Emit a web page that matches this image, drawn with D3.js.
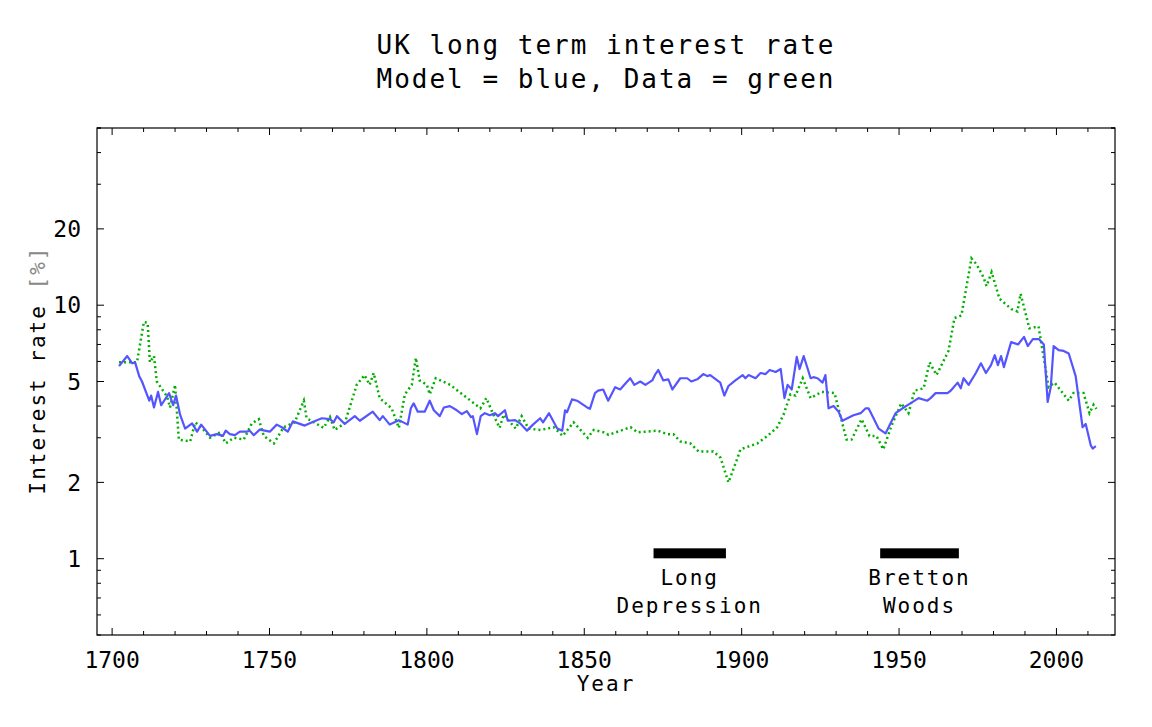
<!DOCTYPE html>
<html>
<head>
<meta charset="utf-8">
<script src="https://cdn.jsdelivr.net/npm/d3@7/dist/d3.min.js"></script>
<style>
  body { margin: 0; background: #fff; }
  text { font-family: "DejaVu Sans Mono", monospace; fill: #000; }
</style>
</head>
<body>
<svg id="chart" width="1152" height="727"></svg>
<script>
// model (blue) : [year, rate %]
var modelData = [[1702.2,5.75],[1704.8,6.3],[1706.4,5.9],[1707.3,5.95],[1708.6,5.25],[1709.5,5.0],[1711.8,4.2],[1712.4,4.4],[1713.3,3.95],[1714.6,4.55],[1715.6,4.03],[1718.1,4.5],[1719.4,4.03],[1720.3,4.4],[1721.6,3.7],[1723.2,3.26],[1725.4,3.42],[1727,3.17],[1728.3,3.38],[1731.1,3.05],[1733.3,3.1],[1735.2,3.05],[1736.1,3.2],[1737.4,3.1],[1739,3.07],[1740.6,3.17],[1742.8,3.17],[1743.7,3.2],[1745,3.07],[1746.9,3.23],[1750.1,3.17],[1752.3,3.38],[1753.9,3.3],[1755.8,3.17],[1757.4,3.48],[1761.2,3.35],[1764.1,3.48],[1766.6,3.58],[1769.2,3.55],[1770.4,3.45],[1771.4,3.65],[1773.9,3.4],[1777.1,3.65],[1778.7,3.5],[1782.8,3.8],[1785,3.52],[1786,3.65],[1788.2,3.38],[1791.1,3.52],[1793.9,3.38],[1794.9,3.92],[1795.8,4.1],[1797.1,3.8],[1799.3,3.8],[1800.9,4.2],[1802.2,3.85],[1804.1,3.65],[1805.4,3.95],[1807.3,4.0],[1809.5,3.85],[1811.1,3.72],[1812.7,3.82],[1814,3.62],[1814.6,3.65],[1815.9,3.1],[1817.1,3.65],[1818.4,3.75],[1820,3.68],[1821.6,3.75],[1822.6,3.65],[1824.8,3.85],[1825.7,3.5],[1828,3.52],[1829.6,3.42],[1831.8,3.2],[1833.7,3.38],[1836,3.58],[1836.9,3.45],[1838.8,3.75],[1841.4,3.26],[1843,3.2],[1843.9,3.85],[1844.5,3.78],[1846.1,4.25],[1847.7,4.2],[1850.9,3.95],[1851.8,3.9],[1853.4,4.5],[1854.4,4.6],[1856,4.65],[1857.6,4.2],[1859.8,4.75],[1861.4,4.65],[1863,4.9],[1864.6,5.15],[1865.9,4.85],[1867.8,5.0],[1869.4,4.85],[1871.6,5.05],[1872.6,5.35],[1873.5,5.55],[1875.1,5.05],[1876.7,5.1],[1878,4.65],[1880.5,5.15],[1882.7,5.15],[1884,5.0],[1885.9,5.1],[1887.8,5.35],[1889.1,5.25],[1890,5.3],[1893.2,4.95],[1894.5,4.4],[1895.8,4.8],[1898,5.05],[1900.3,5.3],[1901.2,5.15],[1902.2,5.3],[1904.4,5.15],[1906,5.4],[1907.6,5.35],[1908.9,5.55],[1910.8,5.45],[1912.4,5.6],[1913.6,4.3],[1914.6,4.85],[1915.9,4.65],[1917.5,6.25],[1918.4,5.6],[1919.7,6.3],[1921,5.6],[1921.9,5.15],[1922.8,5.2],[1924.1,5.15],[1925.7,4.95],[1926.6,5.3],[1927.6,3.92],[1929.2,4.0],[1930.8,3.8],[1932,3.5],[1933.6,3.58],[1935.5,3.68],[1937.8,3.75],[1939.4,3.92],[1940.3,3.92],[1941.9,3.58],[1943.5,3.26],[1945.7,3.12],[1947.3,3.42],[1948.9,3.75],[1951.1,3.92],[1953.6,4.1],[1956.2,4.3],[1959,4.2],[1960,4.3],[1961.6,4.5],[1965.4,4.5],[1966.4,4.6],[1968.6,4.95],[1969.6,4.7],[1970.5,5.15],[1972.1,4.85],[1974.4,5.4],[1976,5.9],[1977.6,5.4],[1979.2,5.8],[1980.4,6.35],[1981.4,5.8],[1982.4,6.3],[1983.3,5.7],[1985.6,7.15],[1987.8,7.0],[1989.7,7.5],[1990.9,6.9],[1992.5,7.35],[1994.4,7.35],[1996,7.0],[1997.2,4.15],[1998.2,4.75],[1999.1,6.9],[2000.7,6.65],[2002.3,6.6],[2003.9,6.45],[2006.1,5.25],[2008.3,3.3],[2009.3,3.4],[2010.9,2.8],[2011.5,2.72],[2012.5,2.78]];

// data (green) : [year, rate %]
var actualData = [[1702.2,5.95],[1707.9,5.95],[1710.1,8.6],[1711.3,8.5],[1712,5.95],[1713.3,6.3],[1714.2,5.0],[1717.5,4.35],[1718.4,3.95],[1720,4.85],[1721.2,2.95],[1724.8,2.9],[1726.4,3.45],[1728.6,3.28],[1731.1,3.0],[1734.3,3.15],[1736.1,2.85],[1738.7,3.0],[1741.8,2.95],[1744.4,3.42],[1746.6,3.55],[1748.2,3.05],[1751.4,2.85],[1754.5,3.3],[1758,3.45],[1760.9,4.2],[1761.8,3.58],[1767.2,3.28],[1769.2,3.62],[1770.7,3.22],[1773.9,3.42],[1777.7,4.85],[1780.2,5.3],[1781.8,4.85],[1783.1,5.4],[1785,4.3],[1788.8,3.92],[1791.1,3.28],[1793,4.45],[1795.2,4.85],[1796.5,6.2],[1797.7,5.05],[1800,4.85],[1800.9,4.45],[1802.8,5.15],[1807.4,4.85],[1817,3.92],[1818.9,4.3],[1820.9,3.75],[1823.1,3.28],[1824.4,3.7],[1828.2,3.26],[1830.1,3.65],[1832.3,3.26],[1836.1,3.22],[1840.3,3.3],[1843.1,3.05],[1846.6,3.45],[1851.1,3.0],[1853,3.22],[1856.2,3.15],[1857.7,3.08],[1864.7,3.3],[1866.9,3.15],[1873.3,3.2],[1876.4,3.1],[1878.3,3.1],[1880.5,2.9],[1883.7,2.85],[1886.3,2.65],[1891,2.65],[1893.3,2.5],[1895.8,2.0],[1898.7,2.5],[1899.6,2.7],[1905,2.85],[1908.2,3.05],[1911.3,3.3],[1913.3,3.7],[1915.5,4.45],[1917.1,4.4],[1919.4,5.15],[1921.9,4.3],[1925.4,4.55],[1929.5,4.5],[1933.3,2.95],[1934.9,2.95],[1938.1,3.55],[1940.6,3.05],[1942.8,3.05],[1945,2.7],[1947.6,3.35],[1950.7,4.1],[1953,3.75],[1954.9,4.6],[1957.8,4.7],[1959.7,5.95],[1961.9,5.3],[1965.7,6.6],[1967.6,8.9],[1969.8,9.1],[1973,15.3],[1974.6,14.5],[1976.8,12.9],[1977.8,11.9],[1979.4,13.5],[1981.9,10.6],[1985.7,9.65],[1987.6,9.45],[1988.6,11.1],[1991.4,8.1],[1994.3,8.25],[1997.5,4.75],[1999.4,4.95],[2003.9,4.2],[2005.4,4.5],[2008.6,4.5],[2010.5,3.75],[2011.8,4.05],[2012.7,3.9]];

var periods = [
  {name: ["Long", "Depression"], start: 1872, end: 1895},
  {name: ["Bretton", "Woods"], start: 1944, end: 1969}
];
var periodLevel = 1.05;

var xTicks = [1700, 1750, 1800, 1850, 1900, 1950, 2000];
var yTickLabels = [1, 2, 5, 10, 20];

var margin = {left: 97, right: 37, top: 128, bottom: 92};
var width = 1152, height = 727;
var svg = d3.select("#chart");

var x = d3.scaleLinear().domain([1695.2, 2018.6]).range([margin.left, width - margin.right]);
var y = d3.scaleLog().domain([0.5, 50]).range([height - margin.bottom, margin.top]);

// minor ticks
var xMinor = d3.range(1700, 2011, 10);
var yMinor = [];
[0.1, 1, 10].forEach(function(dec){
  d3.range(1, 10).forEach(function(m){
    var v = +(m * dec).toFixed(2);
    if (v >= 0.5 && v <= 50) yMinor.push(v);
  });
});
yMinor.push(50);

var g = svg.append("g");
g.append("rect")
  .attr("x", x.range()[0]).attr("y", y.range()[1])
  .attr("width", x.range()[1] - x.range()[0])
  .attr("height", y.range()[0] - y.range()[1])
  .attr("fill", "none").attr("stroke", "#000").attr("stroke-width", 1.2);

xMinor.forEach(function(t){
  var len = xTicks.indexOf(t) >= 0 ? 7 : 4;
  g.append("line").attr("x1", x(t)).attr("x2", x(t)).attr("y1", y.range()[0]).attr("y2", y.range()[0] - len).attr("stroke", "#000");
  g.append("line").attr("x1", x(t)).attr("x2", x(t)).attr("y1", y.range()[1]).attr("y2", y.range()[1] + len).attr("stroke", "#000");
});
yMinor.forEach(function(t){
  var len = yTickLabels.indexOf(t) >= 0 ? 7 : 4;
  g.append("line").attr("y1", y(t)).attr("y2", y(t)).attr("x1", x.range()[0]).attr("x2", x.range()[0] + len).attr("stroke", "#000");
  g.append("line").attr("y1", y(t)).attr("y2", y(t)).attr("x1", x.range()[1]).attr("x2", x.range()[1] - len).attr("stroke", "#000");
});

xTicks.forEach(function(t){
  g.append("text").attr("x", x(t)).attr("y", 668).attr("text-anchor", "middle")
    .style("font-size", "23px").text(t);
});
yTickLabels.forEach(function(t){
  g.append("text").attr("x", 81).attr("y", y(t)).attr("dy", "0.36em").attr("text-anchor", "end")
    .style("font-size", "23px").text(t);
});

// axis titles
svg.append("text").attr("x", 606).attr("y", 691).attr("text-anchor", "middle")
  .style("font-size", "21px").style("letter-spacing", "2px").text("Year");
var yl = svg.append("text").attr("transform", "translate(45,370) rotate(-90)")
  .attr("text-anchor", "middle").style("font-size", "21px").style("letter-spacing", "2px");
yl.append("tspan").text("Interest rate ");
yl.append("tspan").style("fill", "#888").text("[%]");

svg.append("text").attr("x", 606).attr("y", 54).attr("text-anchor", "middle")
  .style("font-size", "26px").style("letter-spacing", "2px").text("UK long term interest rate");
svg.append("text").attr("x", 606).attr("y", 88).attr("text-anchor", "middle")
  .style("font-size", "26px").style("letter-spacing", "2px").text("Model = blue, Data = green");

// series
var line = d3.line().x(d => x(d[0])).y(d => y(d[1]));
svg.append("path").datum(actualData).attr("d", line).attr("fill", "none")
  .attr("stroke", "#00b000").attr("stroke-width", 2.5).attr("stroke-dasharray", "2,3");
svg.append("path").datum(modelData).attr("d", line).attr("fill", "none")
  .attr("stroke", "#5555ff").attr("stroke-width", 2.2).attr("stroke-linejoin", "round");

// period bars
periods.forEach(function(p){
  svg.append("rect").attr("x", x(p.start)).attr("width", x(p.end) - x(p.start))
    .attr("y", y(periodLevel) - 5).attr("height", 10).attr("fill", "#000");
  var mid = (x(p.start) + x(p.end)) / 2;
  p.name.forEach(function(s, i){
    svg.append("text").attr("x", mid).attr("y", 585 + i * 28).attr("text-anchor", "middle")
      .style("font-size", "21px").style("letter-spacing", "2px").text(s);
  });
});
</script>
</body>
</html>
